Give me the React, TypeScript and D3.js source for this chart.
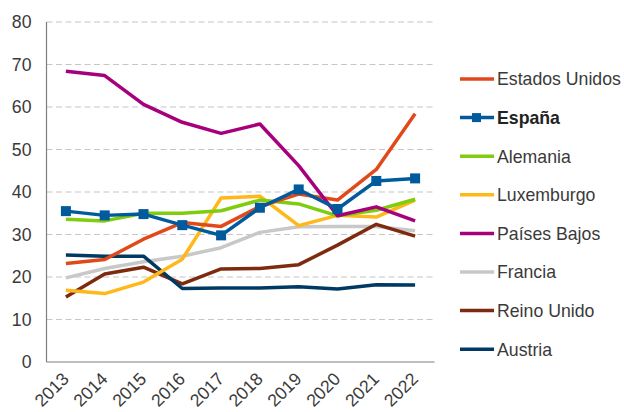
import React from "react";
import * as d3 from "d3";

const years = ["2013", "2014", "2015", "2016", "2017", "2018", "2019", "2020", "2021", "2022"];
const yTicks = [0, 10, 20, 30, 40, 50, 60, 70, 80];

const estadosUnidos = [23.2, 24.1, 28.9, 32.8, 31.9, 36.6, 39.5, 38.1, 45.3, 58.4];
const espana = [35.5, 34.5, 34.8, 32.2, 29.8, 36.3, 40.6, 36.0, 42.6, 43.2];
const alemania = [33.6, 33.2, 35.0, 35.0, 35.6, 38.1, 37.2, 34.4, 35.7, 38.3];
const luxemburgo = [16.9, 16.1, 18.8, 24.2, 38.6, 39.0, 32.1, 34.5, 34.1, 38.1];
const paisesBajos = [68.4, 67.4, 60.6, 56.4, 53.8, 56.0, 46.2, 34.4, 36.5, 33.2];
const francia = [19.8, 22.0, 23.6, 24.9, 26.9, 30.5, 31.8, 31.9, 31.9, 30.9];
const reinoUnido = [15.3, 20.7, 22.3, 18.4, 21.9, 22.0, 22.9, 27.5, 32.4, 29.6];
const austria = [25.2, 24.9, 24.9, 17.3, 17.4, 17.4, 17.7, 17.2, 18.2, 18.1];

const series = [
  { name: "Estados Unidos", values: estadosUnidos, color: "#E2491A", marker: false },
  { name: "España", values: espana, color: "#005A9C", marker: true },
  { name: "Alemania", values: alemania, color: "#80CC0E", marker: false },
  { name: "Luxemburgo", values: luxemburgo, color: "#FFB81A", marker: false },
  { name: "Países Bajos", values: paisesBajos, color: "#A6007D", marker: false },
  { name: "Francia", values: francia, color: "#C8C8C8", marker: false },
  { name: "Reino Unido", values: reinoUnido, color: "#7E2A0F", marker: false },
  { name: "Austria", values: austria, color: "#003A63", marker: false },
];

const drawOrder = [5, 6, 7, 3, 2, 0, 4, 1];

export default function App() {
  const width = 624;
  const height = 412;
  const left = 46.5;
  const right = 434.5;
  const top = 22;
  const bottom = 362;

  const x = d3.scaleBand<string>().domain(years).range([left, right]);
  const y = d3.scaleLinear().domain([0, 80]).range([bottom, top]);
  const cx = (yr: string) => (x(yr) as number) + x.bandwidth() / 2;
  const line = d3
    .line<number>()
    .x((_, i) => cx(years[i]))
    .y((v) => y(v));

  const font = "'Liberation Sans', Arial, sans-serif";
  const textColor = "#3a3a3a";
  const fs = 17.7;

  return (
    <svg
      width={width}
      height={height}
      style={{ position: "absolute", left: 0, top: 0 }}
      fontFamily={font}
    >
      <rect width={width} height={height} fill="#fff" />
      {yTicks.map((t) =>
        t === 0 ? null : (
          <line
            key={"g" + t}
            x1={left}
            x2={right}
            y1={y(t)}
            y2={y(t)}
            stroke="#C6C6C6"
            strokeWidth={1.2}
            strokeDasharray="6 3.5"
          />
        )
      )}
      {yTicks.map((t) => (
        <text
          key={"yt" + t}
          x={31.5}
          y={y(t)}
          dy="0.36em"
          textAnchor="end"
          fontSize={fs}
          fill={textColor}
        >
          {t}
        </text>
      ))}
      <line x1={left} x2={left} y1={top} y2={bottom} stroke="#7f7f7f" strokeWidth={1.2} />
      <line x1={left} x2={right} y1={bottom} y2={bottom} stroke="#7f7f7f" strokeWidth={1.2} />
      {years.map((yr) => (
        <text
          key={"xt" + yr}
          transform={`translate(${cx(yr) + 4},${bottom + 18}) rotate(-45)`}
          textAnchor="end"
          fontSize={fs}
          fill={textColor}
        >
          {yr}
        </text>
      ))}
      {drawOrder.map((si) => {
        const s = series[si];
        return (
          <g key={s.name}>
            <path
              d={line(s.values) || ""}
              fill="none"
              stroke={s.color}
              strokeWidth={3.5}
              strokeLinejoin="round"
            />
            {s.marker &&
              s.values.map((v, i) => (
                <rect
                  key={i}
                  x={cx(years[i]) - 5}
                  y={y(v) - 5}
                  width={10}
                  height={10}
                  fill={s.color}
                />
              ))}
          </g>
        );
      })}
      {series.map((s, i) => {
        const ly = 79 + i * 38.6;
        return (
          <g key={"lg" + s.name}>
            <line x1={460} x2={494} y1={ly} y2={ly} stroke={s.color} strokeWidth={3.5} />
            {s.marker && <rect x={472} y={ly - 4.5} width={9} height={9} fill={s.color} />}
            <text
              x={497}
              y={ly}
              dy="0.36em"
              fontSize={fs}
              fontWeight={s.marker ? "bold" : "normal"}
              fill={s.marker ? "#222" : textColor}
            >
              {s.name}
            </text>
          </g>
        );
      })}
    </svg>
  );
}
